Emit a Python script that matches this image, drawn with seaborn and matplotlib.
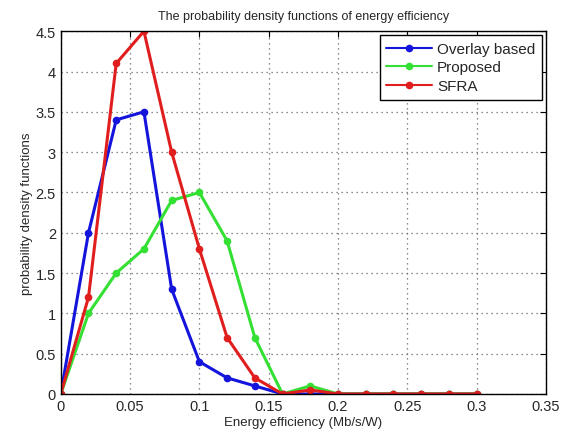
import numpy as np
import pandas as pd
import seaborn as sns
import matplotlib
matplotlib.use("Agg")
import matplotlib.pyplot as plt

x_vals = [0, 0.02, 0.04, 0.06, 0.08, 0.10, 0.12, 0.14, 0.16, 0.18, 0.20, 0.22, 0.24, 0.26, 0.28, 0.30]
overlay = [0, 2.0, 3.4, 3.5, 1.3, 0.4, 0.2, 0.1, 0, 0, 0, 0, 0, 0, 0, 0]
proposed = [0, 1.0, 1.5, 1.8, 2.4, 2.5, 1.9, 0.7, 0, 0.1, 0, 0, 0, 0, 0, 0]
sfra = [0, 1.2, 4.1, 4.5, 3.0, 1.8, 0.7, 0.2, 0, 0.05, 0, 0, 0, 0, 0, 0]
series_names = ["Overlay based", "Proposed", "SFRA"]
colors = ["#1414dc", "#35e035", "#e01e1e"]

df = pd.DataFrame({
    "x": x_vals * 3,
    "y": overlay + proposed + sfra,
    "series": sum([[n] * len(x_vals) for n in series_names], []),
})

sns.set_style("white")
plt.rcParams["font.family"] = ["Liberation Sans", "DejaVu Sans"]

fig = plt.figure(figsize=(5.68, 4.35), dpi=100)
ax = fig.add_axes([0.107, 0.092, 0.854, 0.834])

sns.lineplot(data=df, x="x", y="y", hue="series", palette=colors, marker="o",
             markersize=5.5, markeredgewidth=0, linewidth=2.2, ax=ax, legend=True)

ax.set_xlim(0, 0.35)
ax.set_ylim(0, 4.5)
ax.set_xticks([0, 0.05, 0.1, 0.15, 0.2, 0.25, 0.3, 0.35])
ax.set_xticklabels(["0", "0.05", "0.1", "0.15", "0.2", "0.25", "0.3", "0.35"])
ax.set_yticks([0, 0.5, 1, 1.5, 2, 2.5, 3, 3.5, 4, 4.5])
ax.set_yticklabels(["0", "0.5", "1", "1.5", "2", "2.5", "3", "3.5", "4", "4.5"])
ax.grid(True, linestyle=(0, (1, 3)), color="#666666", linewidth=0.9)
ax.tick_params(direction="in", top=True, right=True, labelsize=10.5, length=4, color="black")
for s in ax.spines.values():
    s.set_visible(True)
    s.set_color("black")
    s.set_linewidth(1.0)

ax.set_xlabel("Energy efficiency (Mb/s/W)", fontsize=9.5, labelpad=2)
ax.set_ylabel("probability density functions", fontsize=9.5, labelpad=2)
ax.set_title("The probability density functions of energy efficiency", fontsize=9, pad=9)

leg = ax.legend(loc="upper right", fontsize=11, frameon=True, fancybox=False,
                edgecolor="black", framealpha=1, borderpad=0.45, labelspacing=0.3,
                handlelength=3, handletextpad=0.3, borderaxespad=0.25)
leg.get_frame().set_linewidth(1.0)
for h in leg.get_lines():
    h.set_linewidth(1.5)

fig.savefig("out.png", dpi=100)
